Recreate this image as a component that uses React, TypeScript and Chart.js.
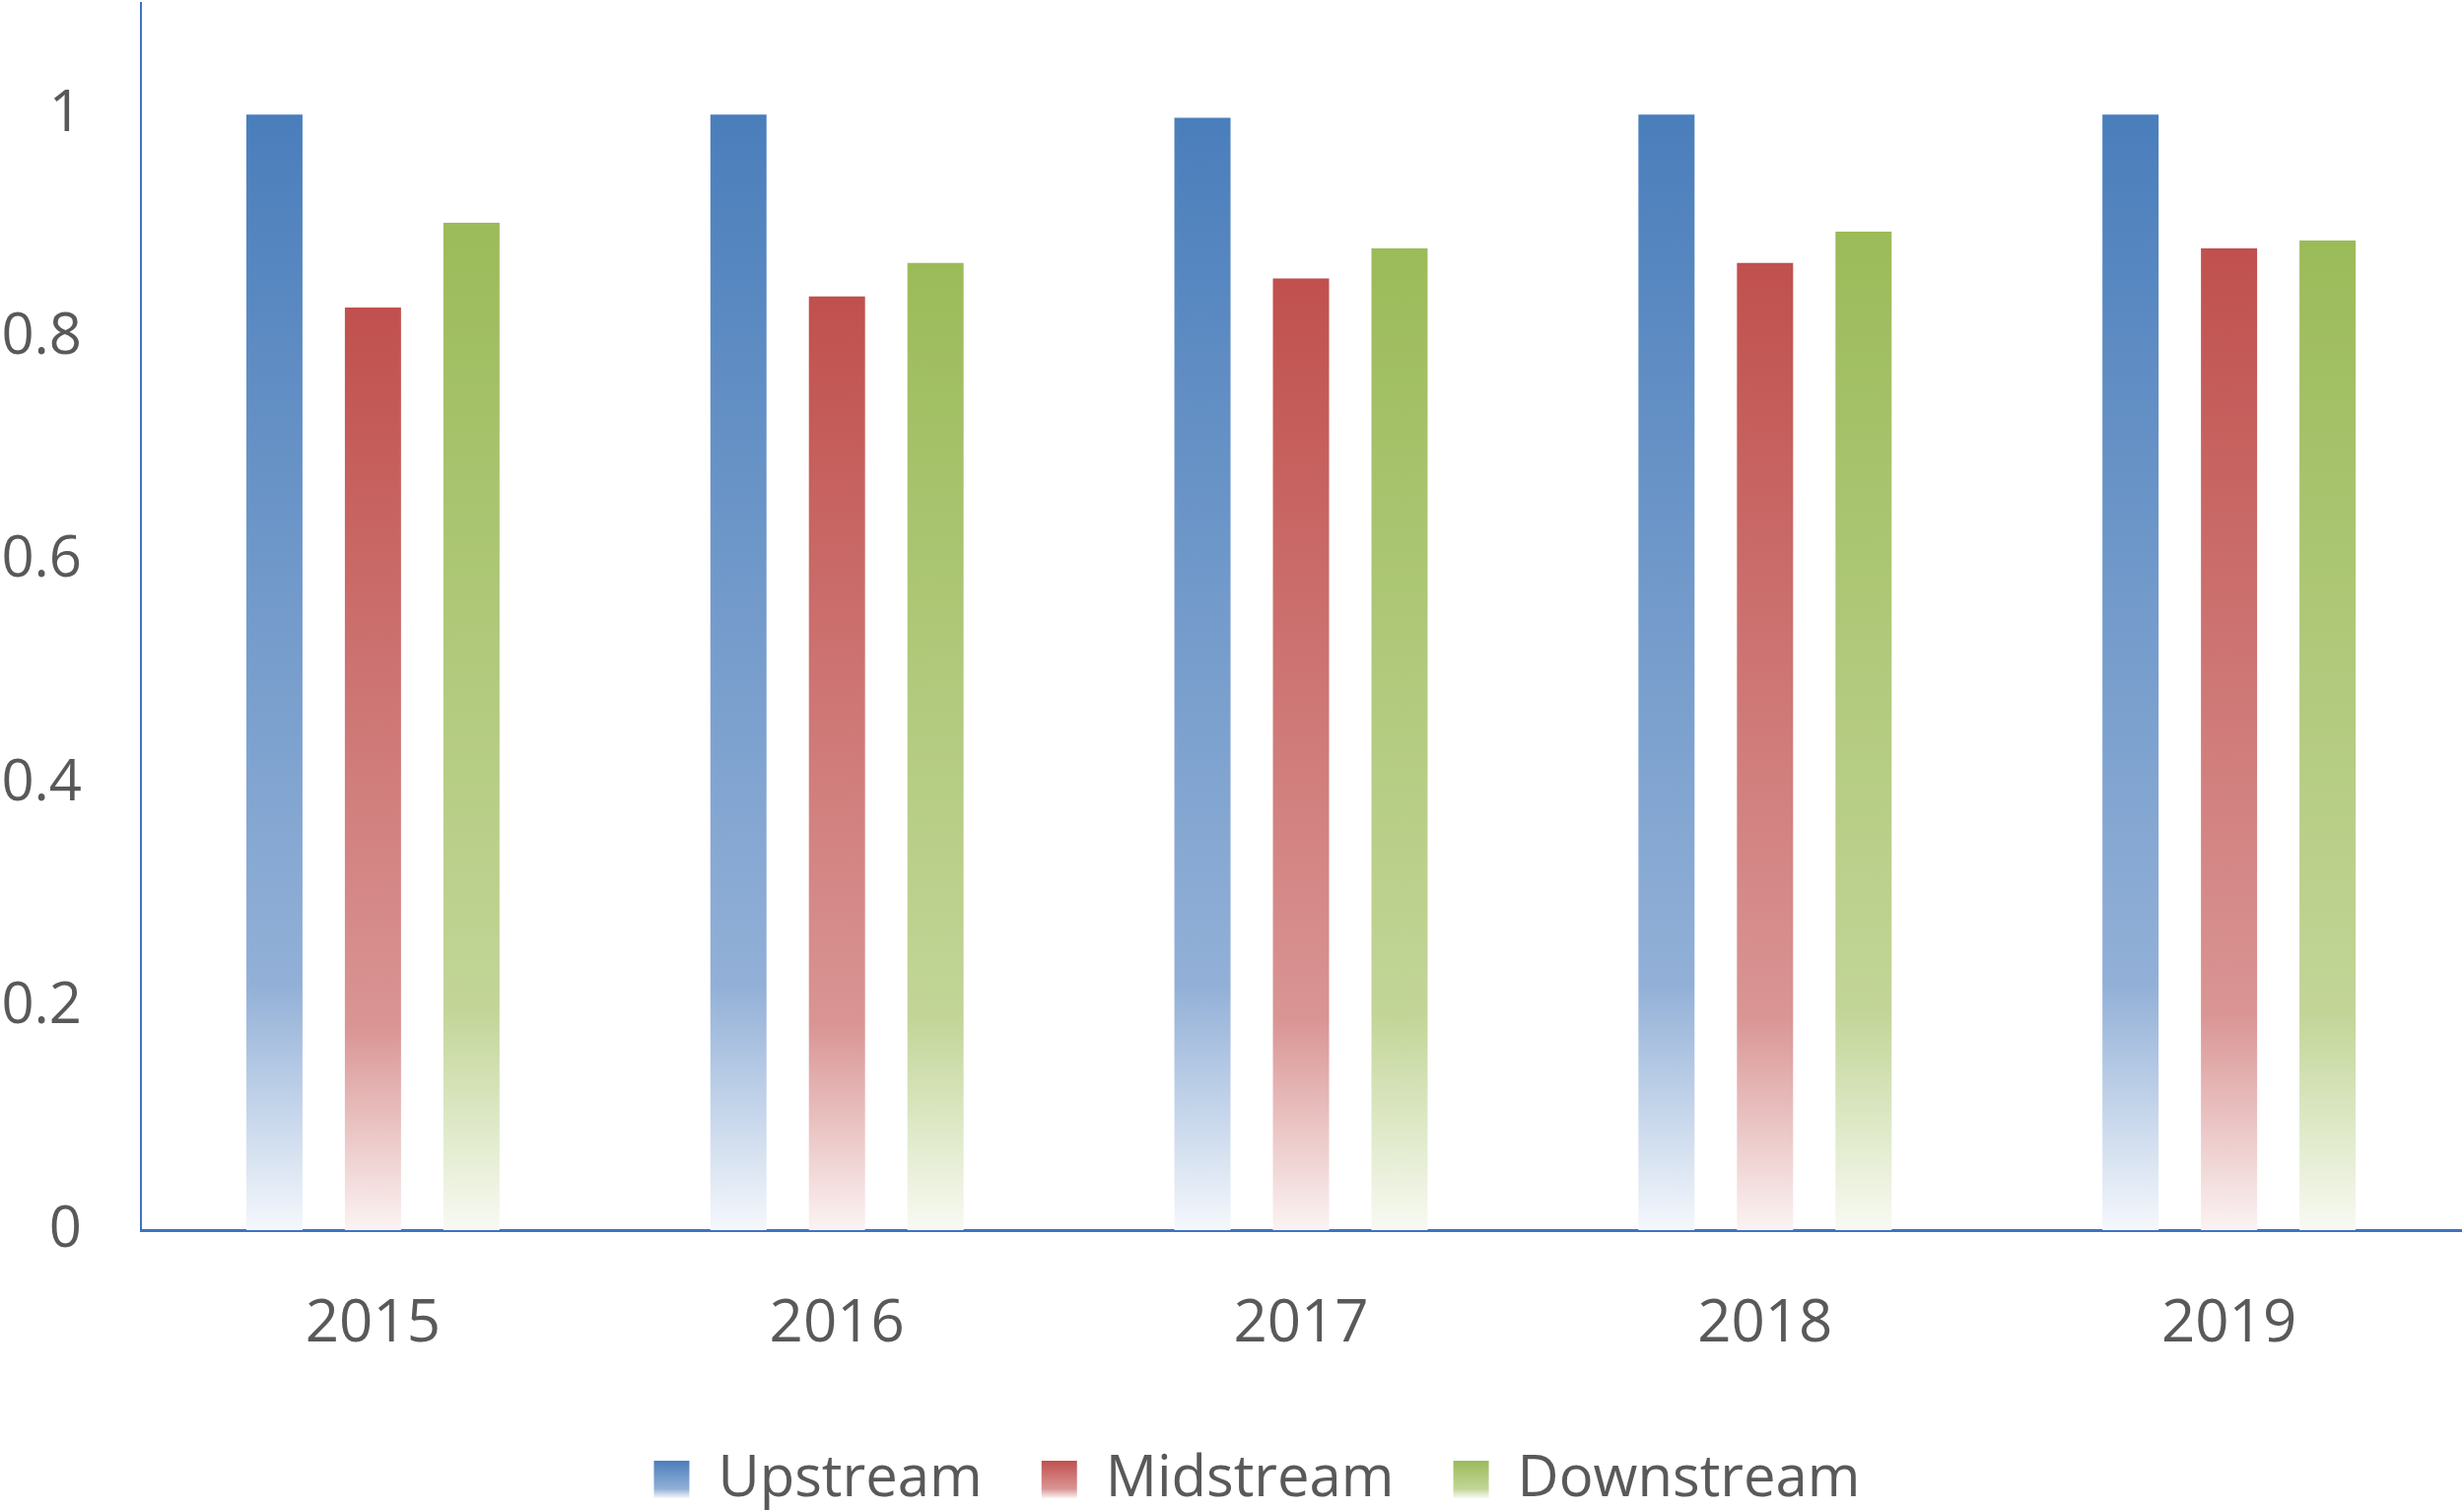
import React, { useEffect, useRef } from "react";
import { Chart, registerables } from "chart.js";

Chart.register(...registerables);

const years = ["2015", "2016", "2017", "2018", "2019"];
const seriesNames = ["Upstream", "Midstream", "Downstream"];
const upstream = [1.0, 1.0, 0.997, 1.0, 1.0];
const midstream = [0.827, 0.837, 0.853, 0.867, 0.88];
const downstream = [0.903, 0.867, 0.88, 0.895, 0.887];
const yTicks = [0, 0.2, 0.4, 0.6, 0.8, 1];
const yMax = 1.1;

const palettes = [
  ["#4A7EBB", "#92B0D7", "#F5F8FC"],
  ["#C0504D", "#D99594", "#FBF3F3"],
  ["#9BBB59", "#C2D597", "#F8FAF3"],
];

const FONT = "'Open Sans', 'Noto Sans', sans-serif";
const TEXT = "#595959";
const AXIS = "#3E72C4";
const LEGEND_FONT = 58;
const LEGEND_SHIFT = 27;

function barGradient(idx: number) {
  const [c0, c1, c2] = palettes[idx];
  return (c: any) => {
    const chart = c.chart;
    if (!chart.chartArea || c.type !== "data" || typeof c.raw !== "number") return c0;
    const y = chart.scales.y;
    const top = y.getPixelForValue(c.raw);
    const bottom = y.getPixelForValue(0);
    if (!isFinite(top) || !isFinite(bottom) || bottom - top < 1) return c0;
    const g = chart.ctx.createLinearGradient(0, top, 0, bottom);
    g.addColorStop(0, c0);
    g.addColorStop(0.78, c1);
    g.addColorStop(1, c2);
    return g;
  };
}

const legendGradientPlugin = {
  id: "legendGradient",
  afterLayout(chart: any) {
    const legend = chart.legend;
    if (!legend) return;
    legend.left += LEGEND_SHIFT;
    legend.right += LEGEND_SHIFT;
  },
  beforeDraw(chart: any) {
    const legend = chart.legend;
    if (!legend || !legend.legendItems || !legend.legendHitBoxes) return;
    const opts = legend.options.labels;
    const fontSize = LEGEND_FONT;
    const boxH = opts.boxHeight || fontSize;
    legend.legendItems.forEach((item: any, i: number) => {
      const hb = legend.legendHitBoxes[i];
      if (!hb) return;
      const top = hb.top + Math.max((fontSize - boxH) / 2, 0);
      const [c0, c1, c2] = palettes[i];
      const g = chart.ctx.createLinearGradient(0, top, 0, top + boxH);
      g.addColorStop(0, c0);
      g.addColorStop(0.75, c1);
      g.addColorStop(1, c2);
      item.fillStyle = g;
      item.strokeStyle = "rgba(0,0,0,0)";
      item.lineWidth = 0;
    });
  },
};

export default function App() {
  const ref = useRef<HTMLCanvasElement | null>(null);

  useEffect(() => {
    if (!ref.current) return;
    const seriesData = [upstream, midstream, downstream];
    const chart = new Chart(ref.current, {
      type: "bar",
      data: {
        labels: years,
        datasets: seriesNames.map((name, i) => ({
          label: name,
          data: seriesData[i],
          backgroundColor: barGradient(i),
          borderWidth: 0,
          categoryPercentage: 0.637,
          barPercentage: 0.57,
        })),
      },
      options: {
        animation: false,
        responsive: false,
        maintainAspectRatio: false,
        layout: { padding: { left: 0, right: 3, top: 3, bottom: 0 } },
        plugins: {
          tooltip: { enabled: false },
          legend: {
            position: "bottom",
            labels: {
              boxWidth: 36,
              boxHeight: 38,
              padding: 60,
              color: TEXT,
              font: { family: FONT, size: LEGEND_FONT },
            },
          },
        },
        scales: {
          x: {
            grid: { display: false, drawTicks: false },
            border: { display: true, color: AXIS, width: 3 },
            ticks: {
              color: TEXT,
              font: { family: FONT, size: 60 },
              padding: 60,
              maxRotation: 0,
            },
            afterFit: (s: any) => {
              s.height = 164;
              s.paddingLeft = 0;
              s.paddingRight = 0;
            },
          },
          y: {
            min: 0,
            max: yMax,
            grid: { display: false, drawTicks: false },
            border: { display: true, color: AXIS, width: 2 },
            afterBuildTicks: (s: any) => {
              s.ticks = yTicks.map((v) => ({ value: v }));
            },
            ticks: {
              color: TEXT,
              font: { family: FONT, size: 58 },
              padding: 60,
              callback: (v: any) => String(Number(Number(v).toFixed(1))),
            },
            afterFit: (s: any) => {
              s.width = 143;
              s.paddingTop = 0;
              s.paddingBottom = 0;
            },
          },
        },
      },
      plugins: [legendGradientPlugin],
    });
    return () => chart.destroy();
  }, []);

  return (
    <div
      style={{
        position: "absolute",
        left: 0,
        top: 0,
        width: 2500,
        height: 1533,
        overflow: "hidden",
        background: "#ffffff",
      }}
    >
      <canvas ref={ref} width={2500} height={1540} style={{ display: "block", width: 2500, height: 1540 }} />
    </div>
  );
}
